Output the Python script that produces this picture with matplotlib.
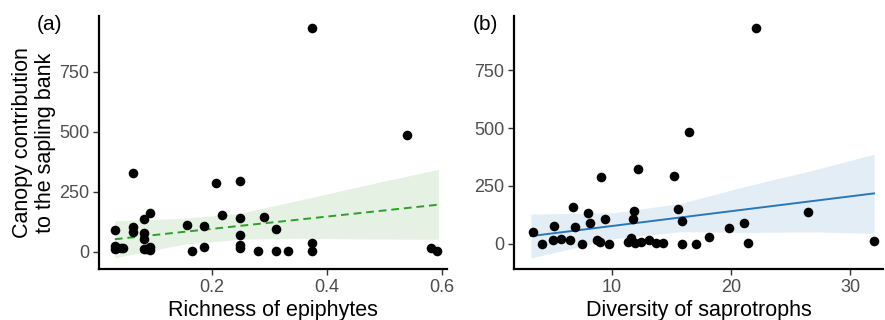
import numpy as np
import matplotlib
matplotlib.use("Agg")
import matplotlib.pyplot as plt

plt.rcParams['font.family'] = ['Liberation Sans', 'DejaVu Sans']

# panel (a): richness of epiphytes vs canopy contribution
rich_x = [0.374, 0.540, 0.062, 0.2075, 0.249, 0.093, 0.218, 0.291, 0.249, 0.082,
          0.156, 0.187, 0.031, 0.062, 0.062, 0.311, 0.082, 0.082, 0.249, 0.374,
          0.031, 0.031, 0.041, 0.082, 0.093, 0.093, 0.187, 0.166, 0.249, 0.249,
          0.280, 0.311, 0.333, 0.374, 0.582, 0.592, 0.035, 0.045, 0.085]
rich_y = [932, 486, 326, 287, 294, 162, 151, 144, 139, 135,
          111, 108, 92, 104, 81, 93, 79, 51, 68, 35,
          25, 10, 17, 12, 21, 7, 21, 3, 26, 14,
          4, 4, 3, 3, 14, 3, 15, 15, 12]

# fitted line and confidence band
rich_fit_x = [0.031, 0.594]
rich_fit_y = [52, 196]
rich_band_x = [0.031, 0.150, 0.249, 0.353, 0.469, 0.594]
rich_band_lo = [-25, 31, 52, 56, 53, 52]
rich_band_hi = [129, 139, 160, 215, 278, 343]

# panel (b): diversity of saprotrophs vs canopy contribution
div_x = [3.4, 4.2, 5.2, 5.1, 5.8, 6.5, 6.8, 6.95, 7.5, 8.0,
         8.2, 8.75, 9.05, 9.45, 9.8, 9.1, 11.4, 11.6, 11.8, 11.9,
         12.0, 12.2, 12.45, 13.15, 13.7, 14.3, 15.2, 15.6, 15.9, 15.9,
         16.5, 17.1, 18.2, 19.85, 21.1, 21.4, 22.1, 26.5, 32.0]
div_y = [52, 0, 79, 17, 22, 15, 161, 75, 0, 134,
         90, 18, 10, 107, 0, 287, 10, 25, 109, 144,
         2, 323, 7, 18, 5, 2, 293, 149, 100, 0,
         484, 0, 32, 68, 92, 3, 931, 138, 14]

div_fit_x = [3.25, 32.0]
div_fit_y = [34, 218]
div_band_x = [3.25, 6.1, 10.25, 15.8, 21.36, 26.9, 32.0]
div_band_lo = [-60, -27, 23, 53, 50, 52, 46]
div_band_hi = [129, 131, 135, 175, 250, 318, 387]

yticks = [0, 250, 500, 750]

fig = plt.figure(figsize=(8.85, 3.2), dpi=100)
W, H = 885, 320
axa = fig.add_axes([99 / W, 1 - 269 / H, (447 - 99) / W, (269 - 16) / H])
axb = fig.add_axes([514 / W, 1 - 269 / H, (883 - 514) / W, (269 - 16) / H])

def style_ax(ax):
    for s in ['top', 'right']:
        ax.spines[s].set_visible(False)
    for s in ['left', 'bottom']:
        ax.spines[s].set_linewidth(1.6)
        ax.spines[s].set_color('black')
    ax.tick_params(axis='both', length=4, width=1.0, color='#333333',
                   labelsize=13, labelcolor='#4D4D4D', pad=3)
    ax.set_yticks(yticks)

# panel a
axa.fill_between(rich_band_x, rich_band_lo, rich_band_hi, color='#e5f1e2', lw=0, zorder=1)
axa.plot(rich_fit_x, rich_fit_y, color='#2ca02c', lw=1.4, dashes=(4, 2.5), zorder=2)
axa.scatter(rich_x, rich_y, s=48, color='black', zorder=3, lw=0)
axa.set_xlim(0.0035, 0.609)
axa.set_ylim(-72, 982)
axa.set_xticks([0.2, 0.4, 0.6])
axa.set_xticklabels(['0.2', '0.4', '0.6'])
style_ax(axa)
axa.set_xlabel('Richness of epiphytes', fontsize=15.5, labelpad=3)
axa.set_ylabel('Canopy contribution\nto the sapling bank', fontsize=15.5,
               linespacing=1.15, labelpad=2)
fig.text(50 / W, 1 - 25 / H, '(a)', fontsize=15, ha='center', va='center')

# panel b
axb.fill_between(div_band_x, div_band_lo, div_band_hi, color='#e3edf5', lw=0, zorder=1)
axb.plot(div_fit_x, div_fit_y, color='#2878b8', lw=1.4, zorder=2)
axb.scatter(div_x, div_y, s=48, color='black', zorder=3, lw=0)
axb.set_xlim(1.83, 32.75)
axb.set_ylim(-108, 983)
axb.set_xticks([10, 20, 30])
style_ax(axb)
axb.set_xlabel('Diversity of saprotrophs', fontsize=15.5, labelpad=3)
fig.text(485 / W, 1 - 25 / H, '(b)', fontsize=15, ha='center', va='center')

fig.savefig('out.png', dpi=100)
